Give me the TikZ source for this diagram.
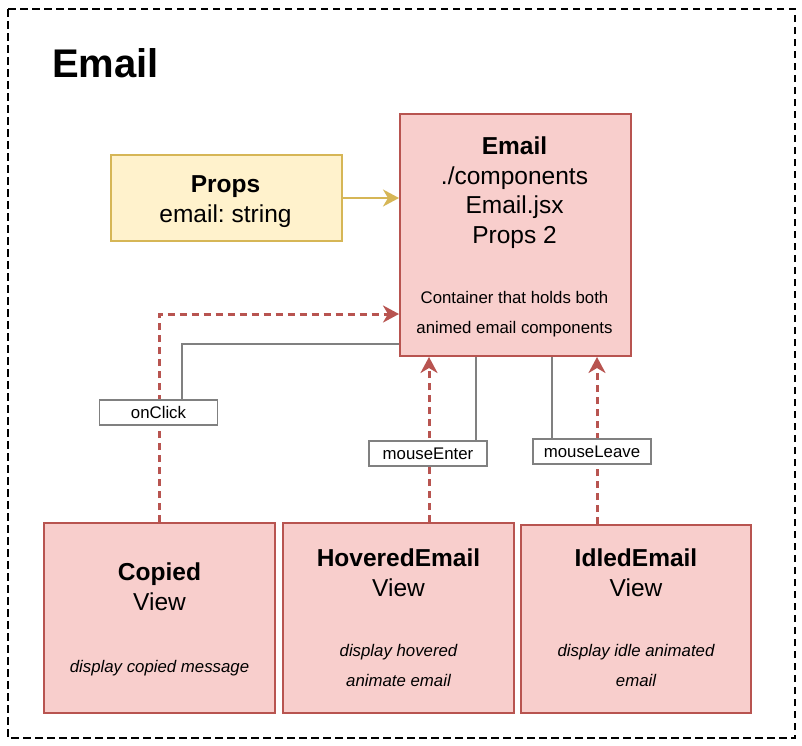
\documentclass[tikz,border=0pt]{standalone}
\usepackage{fontspec}
\setmainfont{Liberation Sans}
\usepackage{tikz}
\usetikzlibrary{positioning,arrows.meta}
\definecolor{myred}{HTML}{B85450}
\definecolor{myredfill}{HTML}{F8CECC}
\definecolor{myyellow}{HTML}{D6B656}
\definecolor{myyellowfill}{HTML}{FFF2CC}
\newcommand{\bigsz}{\fontsize{24.5}{29.5}\selectfont}
\newcommand{\smallsz}{\fontsize{16.8}{29.5}\selectfont}
\frenchspacing

\begin{document}
\begin{tikzpicture}[
          x=1pt,y=-1pt,
          viewbox/.style={draw=myred,fill=myredfill,line width=2pt,anchor=north west,inner sep=0pt},
          propbox/.style={draw=myyellow,fill=myyellowfill,line width=2pt,anchor=north west,inner sep=0pt},
          txt/.style={anchor=base,inner sep=0pt,align=center,font=\bigsz},
          desc/.style={anchor=base,inner sep=0pt,align=center,font=\smallsz},
          evlabel/.style={draw=gray,fill=white,line width=1.5pt,minimum width=118pt,minimum height=25pt,inner sep=0pt,font=\smallsz},
          call/.style={myred,line width=3pt,dash pattern=on 7pt off 5pt,-{Stealth[length=16pt,width=17pt,inset=5pt]}},
          wire/.style={draw=gray,line width=1.2pt}
          ]
          \useasboundingbox[fill=white] (0,0) rectangle (802,745);
          % the frame
          \draw[line width=2pt,dash pattern=on 7.5pt off 4.5pt] (8,9) rectangle (795,738);
          \node[anchor=base west,inner sep=0pt,font=\fontsize{40}{48}\selectfont\bfseries] (title) at (52,77) {Email};
          % the props and the container
          \node[propbox,minimum width=231pt,minimum height=86pt] (props) at (110,154) {};
          \node[txt] (propstxt) at (225.5,222) {\textbf{Props}\\email: string};
          \node[viewbox,minimum width=231pt,minimum height=242pt] (email) at (399,113) {};
          \node[txt] (emailtxt) at (514.5,243) {\textbf{Email}\\./components\\Email.jsx\\Props 2};
          \node[desc] (emaildesc) at (514.5,333) {Container that holds both\\animed email components};
          % the views
          \node[viewbox,minimum width=231pt,minimum height=190pt] (copied) at (43,522) {};
          \node[viewbox,minimum width=231pt,minimum height=190pt] (hovered) at (282,522) {};
          \node[viewbox,minimum width=230pt,minimum height=188pt] (idled) at (520,524) {};
          \foreach \v/\name/\y/\dy/\d in {copied/Copied/610/672/{display copied message},
                                      hovered/HoveredEmail/596/686/{display hovered\\animate email},
                                      idled/IdledEmail/596/686/{display idle animated\\email}}
          {
            \node[txt] (\v txt) at (\v.north |- 0,\y) {\textbf{\name}\\View};
            \node[desc,font=\smallsz\itshape] (\v desc) at (\v.north |- 0,\dy) {\d};
          }
          % the edges
          \draw[-{Stealth[length=16pt,width=17pt,inset=5pt]},myyellow,line width=2pt] (props.east) -- (props.east -| email.west);
          \draw[call] (copied.north) |- ([yshift=-79pt]email.west);
          \draw[call] ([xshift=30.5pt]hovered.north) -- ([xshift=30.5pt]hovered.north |- email.south);
          \draw[call] ([xshift=-39pt]idled.north) -- ([xshift=-39pt]idled.north |- email.south);
          % the events
          \node[evlabel] (onclick) at (158.5,412.5) {onClick};
          \node[evlabel] (mouseenter) at (428,453.5) {mouseEnter};
          \node[evlabel] (mouseleave) at (592,451.5) {mouseLeave};
          \draw[wire] ([yshift=-109pt]email.west) -| ([xshift=23.5pt]onclick.north);
          \draw[wire] ([xshift=48pt]mouseenter.north) -- ([xshift=48pt]mouseenter.north |- email.south);
          \draw[wire] ([xshift=-40pt]mouseleave.north) -- ([xshift=-40pt]mouseleave.north |- email.south);
        \end{tikzpicture}
\end{document}
